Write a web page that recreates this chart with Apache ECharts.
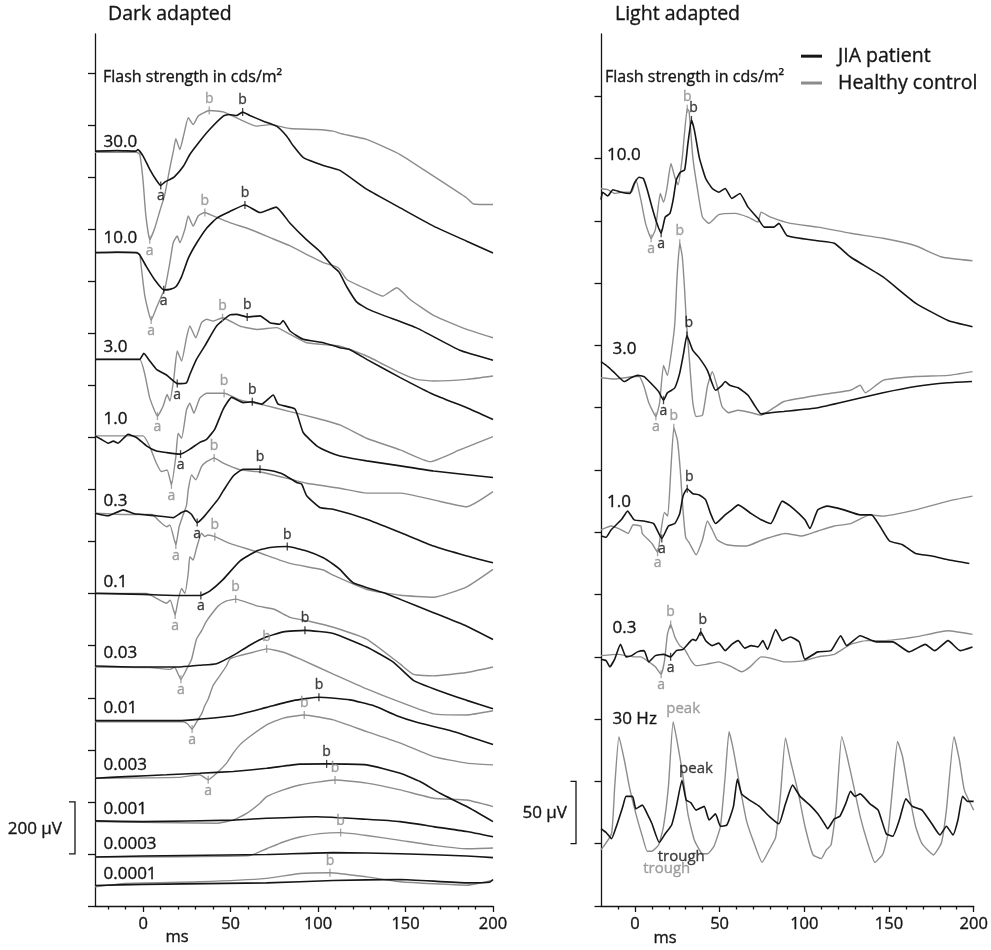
<!DOCTYPE html>
<html>
<head>
<meta charset="utf-8">
<title>ERG recordings</title>
<script src="https://cdn.jsdelivr.net/npm/echarts@6/dist/echarts.min.js"></script>
<style>
  html, body { margin: 0; padding: 0; background: #ffffff; }
  #main { width: 991px; height: 950px; }
</style>
</head>
<body>
<div id="main"></div>
<script>
// ---------- Axis ticks ----------
const darkXTicks = [0, 50, 100, 150, 200];
const darkXMinor = [-20, -10, 10, 20, 30, 40, 60, 70, 80, 90, 110, 120, 130, 140, 160, 170, 180, 190];
const lightXTicks = [0, 50, 100, 150, 200];
const lightXMinor = [-10, 10, 20, 30, 40, 60, 70, 80, 90, 110, 120, 130, 140, 160, 170, 180, 190];
const darkYTicks = [0, 200, 400, 600, 800, 1000, 1200, 1400, 1600, 1800, 2000, 2200, 2400, 2600, 2800, 3000, 3200];
const lightYTicks = [0, 50, 100, 150, 200, 250, 300, 350, 400, 450, 500, 550, 600, 650];

// ---------- Dark adapted (scotopic) responses: [ms, µV relative to pre-flash baseline] ----------
const darkRows = ['30.0', '10.0', '3.0', '1.0', '0.3', '0.1', '0.03', '0.01', '0.003', '0.001', '0.0003', '0.0001'];
const darkOffset = [2900, 2510, 2100, 1806, 1509, 1201, 922, 712, 491, 324, 188, 79];

const dark30_jia = [[-27.5,0],[-15,2],[-4,0],[-3,6],[0,-19],[3.8,-70],[7.6,-112],[10.1,-132],[12.5,-118],[15.3,-109],[18,-98],[23,-58],[26.7,-13],[32.4,38],[38,83],[46,135],[49,141],[53.4,137],[56.9,150],[61,137],[68.8,115],[76.3,96],[82,58],[86,19],[91.6,-25],[103,-55],[112.5,-74],[128,-147],[147,-218],[166,-288],[185,-346],[200,-391]];
const dark30_ctrl = [[-27.5,-4],[-15,-4],[-3.8,-4],[-1.9,-13],[0,-115],[1.5,-244],[3.8,-340],[6.7,-295],[9.5,-231],[12.4,-167],[15.3,-64],[17.3,0],[18.7,48],[21,6],[23.3,64],[25.8,128],[28.6,102],[31.5,135],[34.6,147],[37.8,156],[45.8,151],[55.3,122],[64.9,96],[72.5,102],[84,87],[99,83],[108.6,77],[112.5,68],[127.8,45],[146.9,-13],[166,-96],[185,-180],[188.8,-203],[200,-205]];
const dark10_jia = [[-27.5,0],[-15,2],[-3.8,0],[-1.9,-9],[1.9,-54],[6.7,-105],[11.8,-143],[15.3,-141],[18.7,-131],[22,-92],[25.8,-22],[30.5,36],[36.3,94],[42,132],[49.6,158],[58.2,183],[66.8,154],[76,175],[84,113],[93.5,49],[101,5],[108.6,-54],[112,-75],[116.4,-131],[122,-189],[128,-215],[137,-240],[156.6,-290],[181,-375],[200,-413]];
const dark10_ctrl = [[-27.5,0],[-3.8,0],[-2,-5],[-0.9,-64],[1,-167],[4.6,-259],[7.6,-212],[10.5,-167],[12.4,-141],[15.3,-38],[17.2,38],[19.5,64],[21,38],[23.9,90],[25.8,141],[28.6,102],[31.5,141],[35.3,154],[40,141],[49.6,115],[61,90],[72.5,58],[84,26],[95.4,-13],[103,-38],[111.6,-58],[116.4,-103],[128,-141],[137,-167],[145,-135],[152.6,-180],[166,-241],[185,-295],[200,-327]];
const dark3_jia = [[-27.5,0],[-2,0],[0.4,23],[3.8,-6],[7.6,-38],[13.4,-60],[19.5,-93],[24.8,-90],[26.7,-58],[30.5,0],[35.3,52],[42,128],[49.6,171],[53.4,173],[59.5,163],[66.8,167],[72.5,141],[78.2,135],[80,149],[84,109],[91.5,77],[103,64],[112.5,45],[118,38],[127.8,0],[147,-70],[166,-135],[185,-186],[200,-231]];
const dark3_ctrl = [[-27.5,0],[-2,0],[1,-58],[3.8,-148],[8.2,-218],[11.4,-180],[13.7,-135],[15.3,-160],[17.6,-71],[19.5,32],[22,-6],[24.8,83],[26.7,128],[30.1,83],[33.4,141],[36.3,154],[40,147],[45.4,160],[55.3,128],[64.9,115],[76.3,122],[84,96],[93.5,64],[112.5,51],[127.8,13],[147,-52],[156.4,-77],[166,-83],[185,-77],[200,-64]];
const dark1_jia = [[-27.5,0],[-24,-13],[-20,-28],[-17,-20],[-14.3,-28],[-8.6,6],[-3.8,-6],[1.9,-38],[7.6,-58],[13.4,-64],[21.4,-70],[26.7,-51],[32.4,-25],[36.3,-13],[41,26],[45.8,103],[50.6,148],[57.2,128],[62.4,131],[67.7,122],[74.4,157],[77.2,122],[86.8,103],[91.5,13],[99.2,-38],[106.8,-64],[112.5,-77],[127.8,-96],[147,-115],[166,-135],[200,-160]];
const dark1_ctrl = [[-27.5,0],[0,0],[3.8,-41],[7.6,-105],[10.5,-137],[13.7,-131],[16.2,-188],[18.7,-80],[20,10],[22,-9],[24.8,100],[26.7,126],[29,87],[32.4,145],[36.3,164],[46.3,164],[55.3,138],[68.7,119],[84,93],[99.2,68],[112.5,42],[127.8,-9],[147,-54],[164,-99],[181,-54],[200,-3]];
const dark03_jia = [[-27.5,0],[-20,-10],[-11.4,13],[-5,-2],[7.6,-10],[17.2,-17],[22,3],[24.8,9],[27.6,-4],[30.9,-36],[34.3,-17],[39.1,22],[42.9,54],[45.8,86],[51.5,143],[57.2,169],[66.8,169],[73.5,163],[80,150],[87.8,118],[90.6,112],[93.5,67],[101,22],[108.6,15],[127.8,-23],[147,-74],[166,-126],[185,-164],[200,-190]];
const dark03_ctrl = [[-27.5,0],[-10,-5],[5,-5],[9.5,-32],[13.4,-52],[15.3,-45],[18.7,-122],[20.6,-52],[22.9,-6],[24.8,30],[25.8,90],[27.7,147],[30.1,128],[33.4,179],[36.3,198],[40.6,212],[45.8,192],[55.3,167],[64.9,160],[74.4,147],[93.5,115],[112.5,96],[127.8,77],[147,77],[166,51],[185,25],[200,83]];
const dark01_jia = [[-27.5,0],[0,-4],[20,-8],[28,-8],[33,-8],[38.1,9],[45.8,54],[55.3,124],[64.9,163],[72.5,176],[82.4,180],[93.5,163],[103,137],[108.7,112],[112.5,92],[120,41],[137,3],[147,-23],[166,-74],[185,-126],[200,-177]];
const dark01_ctrl = [[-27.5,0],[1.9,0],[7.6,-19],[13.4,-38],[15.5,-26],[18.3,-83],[20,-26],[22,19],[23.9,0],[25.8,77],[26.7,141],[28.6,128],[30.5,173],[33.4,231],[35.3,218],[37,224],[41,218],[49.6,192],[64.9,160],[84,115],[103,90],[108.6,70],[127.8,15],[147,-7],[166,-15],[185,25],[200,92]];
const dark003_jia = [[-27.5,0],[0,-4],[20,-4],[32.4,3],[42,9],[51.5,41],[61,80],[70.6,112],[80.1,131],[92.5,137],[108.7,125],[127.8,73],[143,15],[154.5,-55],[166,-87],[185,-132],[200,-164]];
const dark003_ctrl = [[-27.5,-4],[3.8,-6],[15.3,-13],[18,-5],[21.6,-51],[24.8,-13],[27.7,26],[30.5,103],[33.4,135],[36.3,173],[39.1,199],[43,231],[47.7,250],[52.9,257],[65,231],[75,218],[84,187],[95,172],[108.7,149],[127.8,103],[147,7],[154.5,-32],[166,-38],[185,-25],[200,-4]];
const dark001_jia = [[-27.5,0],[20,0],[32.4,6],[51.5,19],[70.6,51],[85.8,77],[100.5,90],[118.2,80],[131.6,58],[145,19],[156.4,-6],[175.5,-38],[200,-92]];
const dark001_ctrl = [[-27.5,-4],[20,-4],[22.9,-4],[25.5,-13],[28,-32],[30.5,-6],[33.4,26],[35.3,58],[37.2,83],[40,135],[43.9,173],[47.7,211],[49.6,237],[55.3,250],[63,263],[70.6,276],[80.1,263],[89.6,237],[108.7,179],[127.8,122],[147,71],[166,26],[185,22],[200,38]];
const dark0003_jia = [[-27.5,0],[-10,6],[13.4,13],[32.4,19],[51.5,26],[70.6,38],[89.6,54],[104.9,55],[127.8,51],[147,19],[158.3,-13],[169.7,-58],[185,-109],[200,-167]];
const dark0003_ctrl = [[-27.5,0],[20,3],[32.4,13],[37.2,-6],[42,19],[47.7,58],[51.5,96],[55.3,128],[61,160],[70.6,205],[80.1,231],[92.1,243],[108.7,224],[127.8,179],[147,135],[166,83],[185,58],[200,51]];
const dark0001_jia = [[-27.5,3],[0,0],[51.5,6],[70.6,13],[99.2,19],[127.8,9],[147,0],[166,-19],[185,-38],[200,-58]];
const dark0001_ctrl = [[-27.5,0],[42,-6],[51.5,6],[59.2,32],[66.8,71],[70.6,96],[80.1,122],[89.6,141],[109.7,160],[127.8,148],[147,122],[166,90],[185,83],[200,58]];
const dark00003_jia = [[-27.5,0],[0,4],[70.6,10],[108.7,17],[147,13],[185,4],[200,-2]];
const dark00003_ctrl = [[-27.5,0],[61,6],[70.6,32],[80.1,58],[89.6,77],[101,90],[112.9,94],[127.8,83],[147,64],[166,45],[185,32],[200,35]];
const dark00001_jia = [[-27.5,0],[0,4],[70.6,10],[108.7,19],[147,23],[185,10],[198,12],[200,23]];
const dark00001_ctrl = [[-27.5,-5],[-10,8],[32.4,14],[70.6,27],[89.6,46],[106.8,49],[127.8,33],[147,14],[185,1],[200,20]];

const darkJIA = [dark30_jia, dark10_jia, dark3_jia, dark1_jia, dark03_jia, dark01_jia, dark003_jia, dark001_jia, dark0003_jia, dark0001_jia, dark00003_jia, dark00001_jia];
const darkCtrl = [dark30_ctrl, dark10_ctrl, dark3_ctrl, dark1_ctrl, dark03_ctrl, dark01_ctrl, dark003_ctrl, dark001_ctrl, dark0003_ctrl, dark0001_ctrl, dark00003_ctrl, dark00001_ctrl];

// a- and b-wave picks [ms, µV], null where not marked
const darkJIA_a = [[10.1,-132],[11.8,-143],[19.5,-93],[21.4,-70],[30.9,-36],[33,-8],null,null,null,null,null,null];
const darkJIA_b = [[56.9,150],[58.2,183],[59.5,163],[62.4,131],[66.8,169],[82.4,180],[92.5,137],[100.5,90],[104.9,55],null,null,null];
const darkCtrl_a = [[3.8,-340],[4.6,-259],[8.2,-218],[16.2,-188],[18.7,-122],[18.3,-83],[21.6,-51],[28,-32],[37.2,-6],null,null,null];
const darkCtrl_b = [[37.8,156],[35.3,154],[45.4,160],[46.3,164],[40.6,212],[41,218],[52.9,257],[70.6,276],[92.1,243],[109.7,160],[112.9,94],[106.8,49]];

// ---------- Light adapted (photopic) responses ----------
const lightRows = ['10.0', '3.0', '1.0', '0.3'];
const lightOffset = [573, 424, 302, 201];

const light10_jia = [[-20,-6],[-19,0],[-16,-3],[-13,2],[-8,0],[-3,-1],[-0.4,7],[2.5,12],[5,11],[7.3,2],[10.1,-12],[13,-25],[15.5,-33],[17.9,-20],[20.7,-17],[22.6,-6],[24.5,10],[26.8,16],[29.4,18],[31.3,39],[33.4,58],[35.1,50],[38,28],[41.8,11],[45.7,3],[49.5,0],[53.3,3],[57.2,-5],[62,-1],[66.8,-12],[72.6,-21],[76.4,-28],[82.1,-28],[85,-25],[89.9,-35],[108,-39],[117.7,-41],[127.3,-52],[146.5,-68],[165.7,-89],[184.9,-103],[199.3,-108]];
const light10_ctrl = [[-20,3],[-16,2],[-12,-1],[-8,0],[-2,0],[0.6,10],[3.5,-6],[6.3,-25],[9.6,-37],[12.1,-30],[15,-1],[16.9,-8],[18.8,2],[21.3,23],[23.6,12],[25.5,6],[28,28],[30.9,67],[32,65],[34.2,28],[37,2],[39.9,-20],[43.8,-25],[49.5,-18],[59.1,-17],[66.8,-20],[72.6,-24],[74.5,-16],[80.2,-20],[91.8,-25],[108,-28],[127.3,-33],[146.5,-37],[165.7,-43],[181,-52],[199.3,-55]];
const light3_jia = [[-20,13],[-16,9],[-12,4],[-6.2,-3],[-2.3,0],[1.5,2],[5.4,1],[9.2,-4],[14,-11],[16.9,-18],[19.2,-12],[21.7,-10],[23.6,-8],[26.5,4],[28.8,20],[30.7,34],[34.2,22],[38,16],[42.8,6],[47.6,-10],[51.4,-6],[53.3,-3],[56,-6],[61,-8],[66.8,-14],[70.6,-22],[74.5,-29],[80.2,-28],[87.9,-27],[108,-24],[127.3,-18],[146.5,-12],[165.7,-7],[184.9,-4],[199,-3]];
const light3_ctrl = [[-20,0],[-12,-1],[-6,0],[-0.4,1],[2.5,1],[5.4,-7],[8.2,-20],[12.4,-31],[14.6,-20],[16.9,10],[19.2,2],[21.7,22],[23.6,44],[24.9,81],[26.5,108],[28,97],[29.4,70],[30.3,47],[32.2,14],[34.2,-20],[36.1,-31],[39.9,-30],[42.8,-7],[45.7,5],[48.6,-7],[51.4,-23],[55.3,-28],[61,-26],[68.7,-28],[74.5,-30],[82.1,-24],[87.9,-19],[108,-14],[127.3,-10],[133,-6],[136,-12],[146.5,-2],[165.7,1],[184.9,2],[199.3,5]];
const light1_jia = [[-20,-5],[-17,-6],[-14,0],[-8,8],[-4.3,15],[-0.4,8],[5.4,7],[11.1,5],[15.9,-7],[19.8,3],[23.6,5],[26.5,13],[28.4,27],[30.9,33],[34.2,29],[38,28],[41.8,24],[44.7,13],[47.6,5],[53.3,12],[57.2,16],[61,20],[68.7,13],[74.5,8],[80.2,5],[87,23],[91.8,19],[100.4,8],[103.3,1],[108,16],[113.7,19],[123.4,16],[133,12],[139.7,12],[144.6,3],[150.3,-9],[158,-12],[165.7,-19],[175.3,-21],[184.9,-24],[197.4,-27]];
const light1_ctrl = [[-20,0],[-14,3],[-8,0],[-4,-3],[-1,4],[3.5,3],[4.4,-3],[10.1,-11],[13.4,-18],[15.5,0],[17.4,14],[19.4,11],[21.3,50],[23,82],[25.1,72],[26.8,48],[28.4,16],[30,-6],[32.3,-11],[36.1,-20],[39.9,-8],[42.8,7],[45.7,0],[48.6,-8],[54.3,-12],[65.8,-13],[75.5,-8],[88.9,-3],[98.5,-5],[108,-1],[117.7,3],[127.3,5],[138.8,12],[146.5,11],[165.7,16],[184.9,23],[199.3,27]];
const light03_jia = [[-20,-3],[-17,-4],[-14.8,-9],[-12,-3],[-8.5,9],[-5.2,-1],[-2,0],[1.5,3],[5.4,4],[8.2,-5],[12.1,0],[16.9,1],[21.1,-1],[24.5,4],[28.4,5],[34.2,13],[36,12],[38.9,19],[41.8,12],[45.7,8],[49.5,10],[53.3,4],[57.2,9],[61,12],[64.8,6],[68.7,8],[72.6,7],[75.5,12],[78.3,5],[83.1,21],[87,12],[91.8,15],[97,11],[100.4,-3],[108,3],[115.8,4],[121.5,16],[125,8],[133,16],[142.6,11],[152.2,11],[161.9,3],[171.4,9],[177,4],[184.9,12],[192,4],[199.3,7]];
const light03_ctrl = [[-20,0],[-10,1],[0,-1],[3.5,-1],[8.2,-5],[12.1,-9],[15.5,-15],[17.5,-4],[19.2,17],[21.1,25],[23.6,15],[26.5,8],[29.4,5],[33.2,-4],[36.1,-8],[42,-7],[49.5,-5],[57.2,-9],[63,-13],[68,-9],[74.5,-1],[80,-2],[87.9,-5],[100.4,-4],[108,-1],[117.7,1],[127.3,9],[136.9,12],[146.5,12],[165.7,15],[184.9,20],[199.3,17]];

const lightJIA = [light10_jia, light3_jia, light1_jia, light03_jia];
const lightCtrl = [light10_ctrl, light3_ctrl, light1_ctrl, light03_ctrl];
const lightJIA_a = [[15.5,-33],[16.9,-18],[15.9,-7],[21.1,-1]];
const lightJIA_b = [[33.4,58],[30.7,34],[30.9,33],[38.9,19]];
const lightCtrl_a = [[9.6,-37],[12.4,-31],[13.4,-18],[15.5,-15]];
const lightCtrl_b = [[30.9,67],[26.5,108],[23,82],[21.1,25]];

// 30 Hz flicker
const flickerOffset = 50;
const flicker_jia = [[-20,12],[-17,9],[-13.8,4],[-10.9,14],[-7.1,30],[-5.2,38],[-1.4,38],[0.6,28],[4.4,31],[7.3,24],[10.1,16],[14.4,1],[17.9,8],[21.7,15],[24.5,30],[27.8,51],[30.3,35],[33,33],[36.1,27],[40.9,30],[43.8,19],[47.6,24],[50.5,14],[54.3,15],[58.2,30],[60.5,52],[63,40],[67.7,35],[73.5,30],[79.3,22],[85,16],[88.9,32],[93.1,47],[97.5,38],[103.3,31],[108,24],[111.9,16],[113.8,12],[117.7,20],[121,22],[124.4,32],[127.3,42],[130,38],[133,40],[138.8,32],[143.6,27],[148.4,8],[152.2,6],[156.1,19],[160,36],[163.8,30],[169.5,27],[175.3,16],[180.1,7],[183.9,14],[187.8,7],[190.7,19],[193.5,38],[196.4,34],[200,34]];
const flicker_ctrl = [[-20,-5],[-13.8,8],[-11.9,46],[-9.4,86],[-6.2,67],[-3.3,46],[0.6,24],[4.4,6],[7.3,-6],[10,-6],[14,-1],[16.9,14],[19.8,46],[22.6,98],[25.5,78],[28.4,54],[31.3,24],[35.1,3],[39.9,-8],[43,-8],[46.7,-2],[50.5,14],[53.3,54],[55.6,90],[58.2,75],[62,46],[65.8,19],[69.7,3],[75.1,-15],[79.3,-5],[83.1,5],[86,40],[88.9,85],[91.8,67],[96.6,40],[100.4,14],[105.2,-9],[110,-12],[113,-5],[115.8,-1],[118.7,27],[122.1,86],[125.3,70],[129.2,46],[133,22],[136.9,3],[141.7,-15],[146.5,-8],[149.4,8],[152.2,46],[155.1,82],[158,70],[161.9,40],[165.7,14],[169.5,0],[176.3,-9],[181,1],[183.9,27],[188.4,86],[191.6,67],[194.5,43],[200,27]];
const flickerJIA_peak = [27.8, 51];
const flickerJIA_trough = [14.4, 1];
const flickerCtrl_peak = [22.6, 98];
const flickerCtrl_trough = [7.3, -6];

// ---------- Styling ----------
const FONT = "'Open Sans', 'Noto Sans', 'DejaVu Sans', sans-serif";
const BLACK = '#151515';
const GRAY = '#8c8c8c';
const JIA = 'JIA patient';
const CTRL = 'Healthy control';
const TXT_BORDER = 0.35;

const chart = echarts.init(document.getElementById('main'), null, { renderer: 'canvas', width: 991, height: 950 });

function shift(points, offset) {
  return points.map(p => [p[0], p[1] + offset]);
}

function traceSeries(name, axis, points, offset, color, width) {
  return {
    type: 'line', name: name,
    xAxisIndex: axis * 2, yAxisIndex: axis,
    data: shift(points, offset),
    showSymbol: false, symbol: 'none',
    smooth: 0.15,
    lineStyle: { color: color, width: width },
    itemStyle: { color: color },
    silent: true, z: color === BLACK ? 3 : 2
  };
}

function pickItems(list, offsets, tag, bShift) {
  const out = [];
  list.forEach((p, i) => {
    if (!p) return;
    out.push({
      name: tag,
      value: [p[0], p[1] + offsets[i]],
      label: { offset: tag === 'a' ? [0, 11] : [bShift || 0, -12] }
    });
  });
  return out;
}

function pickSeries(name, axis, items, color) {
  return {
    type: 'scatter', name: name,
    xAxisIndex: axis * 2, yAxisIndex: axis,
    data: items,
    symbol: 'rect', symbolSize: [1.3, 8],
    itemStyle: { color: color },
    label: { show: true, position: 'inside', formatter: '{b}', color: color, fontSize: 14, fontFamily: FONT,
             textBorderColor: color, textBorderWidth: TXT_BORDER },
    silent: true, z: 6
  };
}

const series = [];
darkRows.forEach((r, i) => {
  series.push(traceSeries(CTRL, 0, darkCtrl[i], darkOffset[i], GRAY, 1.4));
  series.push(traceSeries(JIA, 0, darkJIA[i], darkOffset[i], BLACK, 1.6));
});
lightRows.forEach((r, i) => {
  series.push(traceSeries(CTRL, 1, lightCtrl[i], lightOffset[i], GRAY, 1.4));
  series.push(traceSeries(JIA, 1, lightJIA[i], lightOffset[i], BLACK, 1.6));
});
series.push(traceSeries(CTRL, 1, flicker_ctrl, flickerOffset, GRAY, 1.4));
series.push(traceSeries(JIA, 1, flicker_jia, flickerOffset, BLACK, 1.6));

series.push(pickSeries(CTRL, 0, pickItems(darkCtrl_a, darkOffset, 'a').concat(pickItems(darkCtrl_b, darkOffset, 'b')), GRAY));
series.push(pickSeries(JIA, 0, pickItems(darkJIA_a, darkOffset, 'a').concat(pickItems(darkJIA_b, darkOffset, 'b')), BLACK));
series.push(pickSeries(CTRL, 1, pickItems(lightCtrl_a, lightOffset, 'a').concat(pickItems(lightCtrl_b, lightOffset, 'b')), GRAY));
series.push(pickSeries(JIA, 1, pickItems(lightJIA_a, lightOffset, 'a').concat(pickItems(lightJIA_b, lightOffset, 'b', 2)), BLACK));

// peak / trough annotations of the flicker response
function flickerLabel(name, p, text, color, offset) {
  return {
    type: 'scatter', name: name, xAxisIndex: 2, yAxisIndex: 1,
    data: [{ name: text, value: [p[0], p[1] + flickerOffset] }],
    symbol: 'circle', symbolSize: 2, itemStyle: { color: 'rgba(0,0,0,0)' },
    label: { show: true, position: 'inside', formatter: '{b}', offset: offset, color: color, fontSize: 15, fontFamily: FONT,
             textBorderColor: color, textBorderWidth: TXT_BORDER },
    silent: true, z: 7
  };
}
series.push(flickerLabel(CTRL, flickerCtrl_peak, 'peak', GRAY, [10, -12.5]));
series.push(flickerLabel(JIA, flickerJIA_peak, 'peak', BLACK, [14, -11]));
series.push(flickerLabel(JIA, flickerJIA_trough, 'trough', BLACK, [22, 14]));
series.push(flickerLabel(CTRL, flickerCtrl_trough, 'trough', GRAY, [19.5, 17.5]));

const axisLineStyle = { color: BLACK, width: 1.3 };

function xMain(grid, min, ticks) {
  return {
    gridIndex: grid, type: 'value', min: min, max: 200, position: 'bottom',
    axisLine: { show: true, onZero: false, lineStyle: axisLineStyle },
    axisTick: { show: true, length: 6, customValues: ticks, lineStyle: axisLineStyle },
    axisLabel: { show: true, customValues: ticks, color: BLACK, fontSize: 16.5, fontFamily: FONT, margin: 10,
                 textBorderColor: BLACK, textBorderWidth: TXT_BORDER },
    splitLine: { show: false }
  };
}
function xMinor(grid, min, ticks) {
  return {
    gridIndex: grid, type: 'value', min: min, max: 200, position: 'bottom',
    axisLine: { show: false, onZero: false },
    axisTick: { show: true, length: 3.5, customValues: ticks, lineStyle: axisLineStyle },
    axisLabel: { show: false },
    splitLine: { show: false }
  };
}
function yAxis(grid, max, ticks, len) {
  return {
    gridIndex: grid, type: 'value', min: 0, max: max,
    axisLine: { show: true, onZero: false, lineStyle: axisLineStyle },
    axisTick: { show: true, length: len, customValues: ticks, lineStyle: axisLineStyle },
    axisLabel: { show: false },
    splitLine: { show: false }
  };
}

chart.setOption({
  animation: false,
  backgroundColor: '#ffffff',
  grid: [
    { left: 95, top: 34, width: 398, height: 872 },
    { left: 601, top: 34, width: 382, height: 872 }
  ],
  xAxis: [
    xMain(0, -27.5, darkXTicks), xMinor(0, -27.5, darkXMinor),
    xMain(1, -20, lightXTicks), xMinor(1, -20, lightXMinor)
  ],
  yAxis: [yAxis(0, 3350, darkYTicks, 7), yAxis(1, 700, lightYTicks, 6.5)],
  legend: {
    show: true, data: [JIA, CTRL], orient: 'vertical', padding: 0,
    left: 801, top: 46, itemWidth: 21, itemHeight: 3, itemGap: 6.5,
    icon: 'rect', selectedMode: false,
    textStyle: { fontSize: 19.5, fontFamily: FONT, color: BLACK, padding: [0, 0, 0, 11],
                 textBorderColor: BLACK, textBorderWidth: TXT_BORDER }
  },
  series: series
});

// ---------- Titles, row labels and scale bars ----------
function txt(id, text, x, y, size, align, color) {
  const c = color || BLACK;
  return {
    type: 'text', id: id, x: x, y: y, silent: true,
    style: { text: text, fontSize: size, fontFamily: FONT, fill: c, align: align || 'left', verticalAlign: 'middle',
             stroke: c, lineWidth: TXT_BORDER }
  };
}

const darkLabelY = [142, 238.5, 347, 419.5, 501, 582, 653.5, 708.5, 765, 809.5, 844, 874];
const lightLabel = [['10.0', 607, 155], ['3.0', 612.5, 349], ['1.0', 607, 502], ['0.3', 612.5, 628.5], ['30 Hz', 612.5, 719]];

const g = [
  txt('t1', 'Dark adapted', 108, 14.5, 19.5),
  txt('t2', 'Light adapted', 615, 14.5, 19.5),
  txt('f1', 'Flash strength in cds/m\u00B2', 103, 77, 16),
  txt('f2', 'Flash strength in cds/m\u00B2', 605, 77, 16),
  txt('ms1', 'ms', 177, 937.5, 16.5, 'center'),
  txt('ms2', 'ms', 665, 938, 16.5, 'center'),
  txt('s1', '200 \u00B5V', 62, 829, 17, 'right'),
  txt('s2', '50 \u00B5V', 567, 813.5, 17, 'right')
];
darkRows.forEach((r, i) => g.push(txt('dr' + i, r, 103.5, darkLabelY[i], 17)));
lightLabel.forEach((l, i) => g.push(txt('lr' + i, l[0], l[1], l[2], 17)));

// calibration brackets sized through the y scales: 200 µV (dark) and 50 µV (light)
const d0 = chart.convertToPixel({ yAxisIndex: 0 }, 200);
const d1 = chart.convertToPixel({ yAxisIndex: 0 }, 400);
const l0 = chart.convertToPixel({ yAxisIndex: 1 }, 50);
const l1 = chart.convertToPixel({ yAxisIndex: 1 }, 100);
g.push({ type: 'polyline', id: 'b1', silent: true, shape: { points: [[69, d1], [75, d1], [75, d0], [69, d0]] }, style: { stroke: BLACK, lineWidth: 1.3, fill: null } });
g.push({ type: 'polyline', id: 'b2', silent: true, shape: { points: [[570.5, l1], [576, l1], [576, l0], [570.5, l0]] }, style: { stroke: BLACK, lineWidth: 1.3, fill: null } });

chart.setOption({ graphic: g });
</script>
</body>
</html>
